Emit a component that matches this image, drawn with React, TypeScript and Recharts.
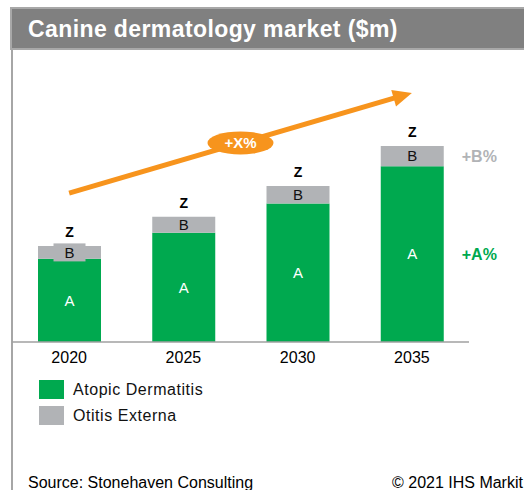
import React from 'react';
import { BarChart, Bar, XAxis, YAxis, LabelList, ReferenceLine } from 'recharts';

const YEARS = ['2020', '2025', '2030', '2035'];
const ATOPIC = [59.5, 78, 99, 125.5];
const OTITIS = [9, 11.5, 12.5, 14.5];
const SERIES_NAMES = ['Atopic Dermatitis', 'Otitis Externa'];
const SEGMENT_LABELS = ['A', 'B'];
const TOTAL_LABEL = 'Z';
const GROWTH_LABELS = ['+A%', '+B%'];
const TREND_LABEL = '+X%';
// trend arrow runs from the first to the last year, in value units
const ARROW_Y = [106.4, 177.9];

const GREEN = '#00A94F';
const GREY = '#B1B3B6';
const ORANGE = '#F7941D';
const FONT = '"Liberation Sans", Arial, sans-serif';

const data = YEARS.map((year, i) => ({ year, atopic: ATOPIC[i], otitis: OTITIS[i] }));
const last = YEARS.length - 1;

const box = (p: any) => (p.viewBox && p.viewBox.width != null ? p.viewBox : p);

function AtopicLabel(p: any) {
  const { x, y, width, height } = box(p);
  return (
    <g>
      <text x={x + width / 2} y={y + height / 2} dy="0.35em" textAnchor="middle" fill="#fff" fontSize={15} fontFamily={FONT}>
        {SEGMENT_LABELS[0]}
      </text>
      {p.index === last && (
        <text x={x + width + 18} y={y + height / 2} dy="0.35em" fill={GREEN} fontSize={16} fontWeight="bold" fontFamily={FONT}>
          {GROWTH_LABELS[0]}
        </text>
      )}
    </g>
  );
}

function OtitisLabel(p: any) {
  const { x, y, width, height } = box(p);
  const cx = x + width / 2;
  const cy = y + height / 2;
  return (
    <g>
      {height < 15 && <rect x={cx - 16} y={cy - 9} width={32} height={18} fill={GREY} />}
      <text x={cx} y={cy} dy="0.35em" textAnchor="middle" fill="#111" fontSize={15} fontFamily={FONT}>
        {SEGMENT_LABELS[1]}
      </text>
      <text x={cx} y={y - 9} textAnchor="middle" fill="#000" fontSize={14} fontWeight="bold" fontFamily={FONT}>
        {TOTAL_LABEL}
      </text>
      {p.index === last && (
        <text x={x + width + 18} y={cy} dy="0.35em" fill={GREY} fontSize={16} fontWeight="bold" fontFamily={FONT}>
          {GROWTH_LABELS[1]}
        </text>
      )}
    </g>
  );
}

// trend arrow with the growth badge at its midpoint
function Arrow(p: any) {
  const { x1, y1, x2, y2 } = p;
  const len = Math.hypot(x2 - x1, y2 - y1);
  const ux = (x2 - x1) / len;
  const uy = (y2 - y1) / len;
  const head = 19;
  const half = 8.5;
  const bx = x2 - ux * head;
  const by = y2 - uy * head;
  const mx = (x1 + x2) / 2;
  const my = (y1 + y2) / 2;
  return (
    <g>
      <line x1={x1} y1={y1} x2={x2 - ux * (head - 3)} y2={y2 - uy * (head - 3)} stroke={ORANGE} strokeWidth={5} />
      <polygon
        points={`${x2},${y2} ${bx - uy * half},${by + ux * half} ${bx + uy * half},${by - ux * half}`}
        fill={ORANGE}
      />
      <ellipse cx={mx} cy={my} rx={33} ry={11.5} fill={ORANGE} />
      <text x={mx} y={my} dy="0.35em" textAnchor="middle" fill="#fff" fontSize={15} fontWeight="bold" fontFamily={FONT}>
        {TREND_LABEL}
      </text>
    </g>
  );
}

export default function App() {
  return (
    <div style={{ position: 'absolute', left: 0, top: 0, width: 524, height: 490, overflow: 'hidden', background: '#fff', fontFamily: FONT }}>
      <div
        style={{
          position: 'absolute',
          left: 10,
          top: 7,
          width: 530,
          height: 43,
          boxSizing: 'border-box',
          background: '#808080',
          border: '2px solid #a8a8a8',
        }}
      />
      <div style={{ position: 'absolute', left: 11, top: 50, width: 2, height: 440, background: '#a6a6a6' }} />
      <div
        style={{
          position: 'absolute',
          left: 28,
          top: 16,
          lineHeight: '26px',
          fontSize: 23,
          fontWeight: 'bold',
          letterSpacing: 0.4,
          color: '#fff',
          whiteSpace: 'nowrap',
        }}
      >
        Canine dermatology market ($m)
      </div>

      <div style={{ position: 'absolute', left: 0, top: 0 }}>
        <BarChart width={524} height={490} data={data} margin={{ top: 62, right: 55, left: 12, bottom: 118 }}>
          <YAxis hide domain={[0, 200]} allowDataOverflow />
          <XAxis
            dataKey="year"
            axisLine={{ stroke: '#a0a0a0', strokeWidth: 1.5 }}
            tickLine={false}
            tickMargin={4}
            tick={{ fontSize: 16, fill: '#000', fontFamily: FONT }}
          />
          <Bar dataKey="atopic" stackId="s" fill={GREEN} barSize={63} isAnimationActive={false}>
            <LabelList dataKey="atopic" content={AtopicLabel} />
          </Bar>
          <Bar dataKey="otitis" stackId="s" fill={GREY} barSize={63} isAnimationActive={false}>
            <LabelList dataKey="otitis" content={OtitisLabel} />
          </Bar>
          <ReferenceLine
            segment={[
              { x: YEARS[0], y: ARROW_Y[0] },
              { x: YEARS[last], y: ARROW_Y[1] },
            ]}
            shape={Arrow}
          />
        </BarChart>
      </div>

      {SERIES_NAMES.map((name, i) => (
        <div key={name} style={{ position: 'absolute', left: 39, top: 380 + i * 26, height: 19 }}>
          <div style={{ position: 'absolute', left: 0, top: 0, width: 25, height: 18.5, background: i === 0 ? GREEN : GREY }} />
          <div
            style={{
              position: 'absolute',
              left: 34,
              top: 0.5,
              lineHeight: '18px',
              fontSize: 16,
              letterSpacing: 0.55,
              color: '#111',
              whiteSpace: 'nowrap',
            }}
          >
            {name}
          </div>
        </div>
      ))}

      <div style={{ position: 'absolute', left: 28, top: 474, lineHeight: '18px', fontSize: 16, color: '#000', whiteSpace: 'nowrap' }}>
        Source: Stonehaven Consulting
      </div>
      <div style={{ position: 'absolute', left: 392, top: 474, lineHeight: '18px', fontSize: 16, color: '#000', whiteSpace: 'nowrap' }}>
        © 2021 IHS Markit
      </div>
    </div>
  );
}
